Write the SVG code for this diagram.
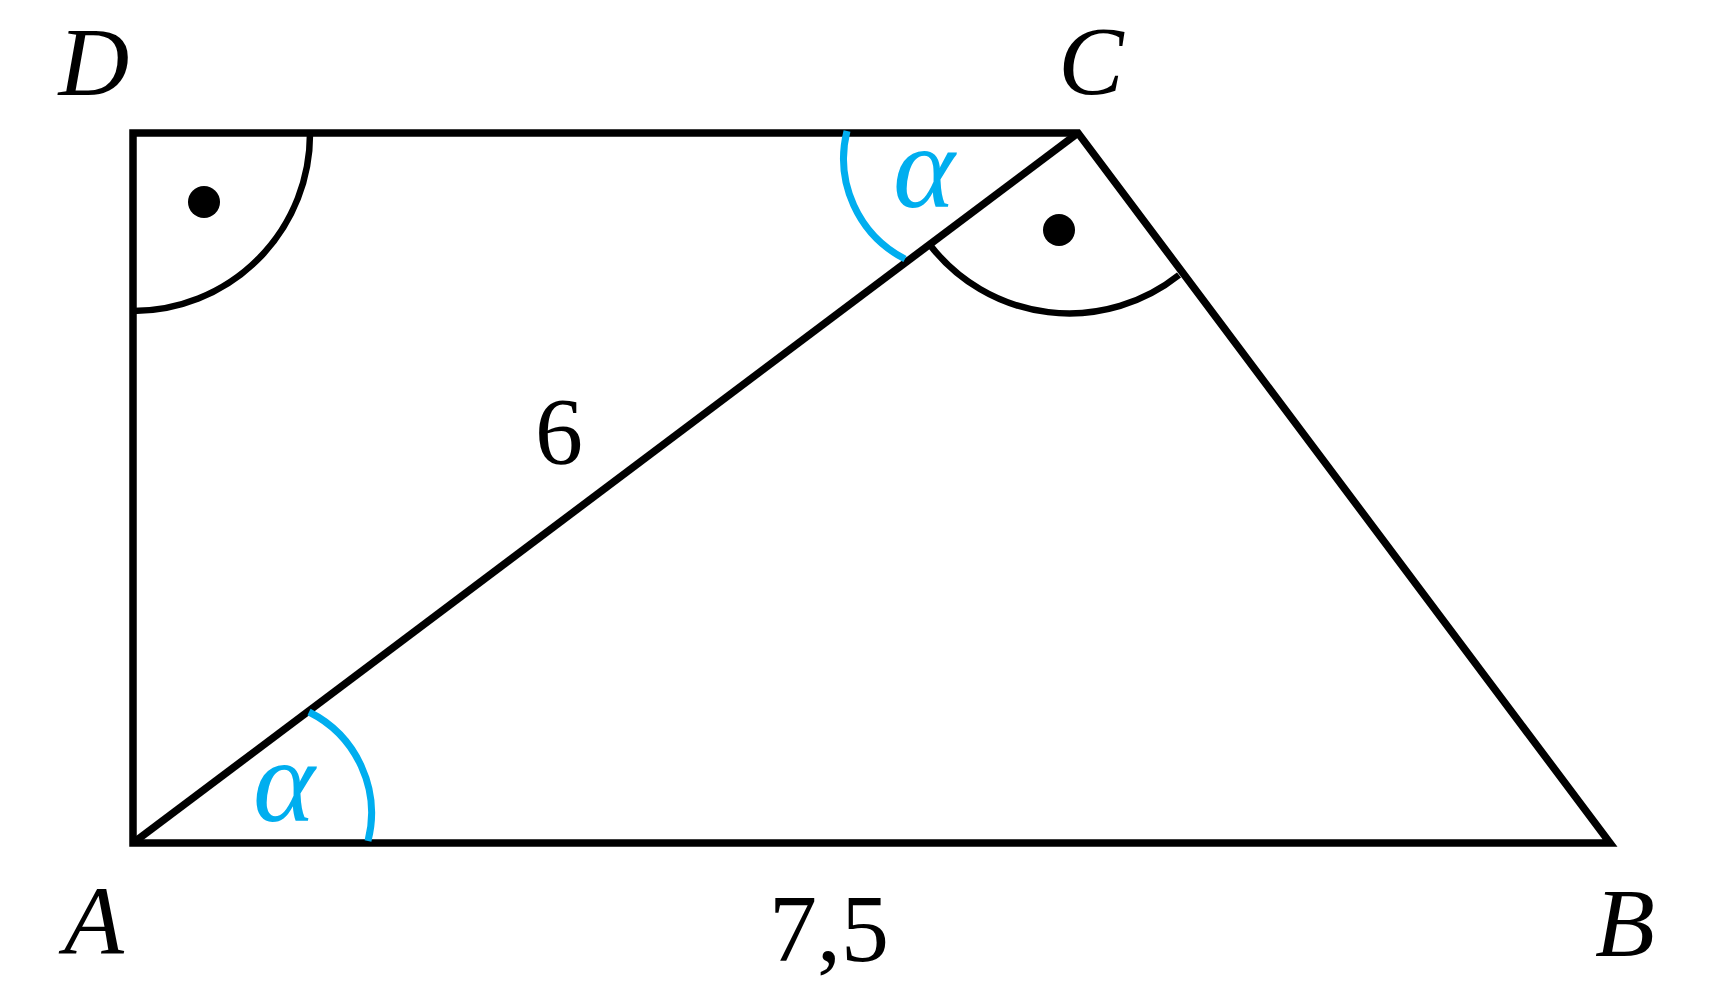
<svg xmlns="http://www.w3.org/2000/svg" width="1723" height="988" viewBox="0 0 1723 988">
<style>
.edge{fill:none;stroke:#000;stroke-width:7.5;stroke-linejoin:miter;stroke-miterlimit:10}
.mark{fill:none;stroke:#000;stroke-width:6.5}
.ang{fill:none;stroke:#00AEEF;stroke-width:7}
.dot{fill:#000}
.lbl{font-family:"Liberation Serif",serif;font-style:italic;font-size:98px;fill:#000;text-anchor:middle}
.num{font-family:"Liberation Serif",serif;font-size:96px;fill:#000;text-anchor:middle}
.alpha{font-family:"Liberation Serif",serif;font-style:italic;font-size:118px;fill:#00AEEF;text-anchor:middle}
</style>
<rect width="1723" height="988" fill="#fff"/>
<g id="connectors">
<polygon class="edge" points="133,133 1078,133 1610,843 133,843"/>
<line class="edge" x1="133" y1="843" x2="1078" y2="133"/>
</g>
<g id="angle-D">
<path class="mark" d="M310,133 A177,177 0 0 1 133,311"/>
<circle class="dot" cx="204" cy="202" r="16"/>
</g>
<g id="angle-C-right">
<path class="mark" d="M930,245 A176,176 0 0 0 1179,275"/>
<circle class="dot" cx="1059" cy="230" r="16"/>
</g>
<g id="angle-A">
<path class="ang" d="M309,712 A113,113 0 0 1 368,841"/>
<text class="alpha" x="284" y="821">α</text>
</g>
<g id="angle-C">
<path class="ang" d="M905,259 A113,113 0 0 1 847,131"/>
<text class="alpha" x="924" y="207">α</text>
</g>
<g id="node-D"><text class="lbl" x="94" y="95">D</text></g>
<g id="node-C"><text class="lbl" x="1091" y="94">C</text></g>
<g id="node-A"><text class="lbl" x="94" y="953">A</text></g>
<g id="node-B"><text class="lbl" x="1625" y="956">B</text></g>
<g id="label-AC"><text class="num" x="559" y="464">6</text></g>
<g id="label-AB"><text class="num" x="829" y="961">7,5</text></g>
</svg>
